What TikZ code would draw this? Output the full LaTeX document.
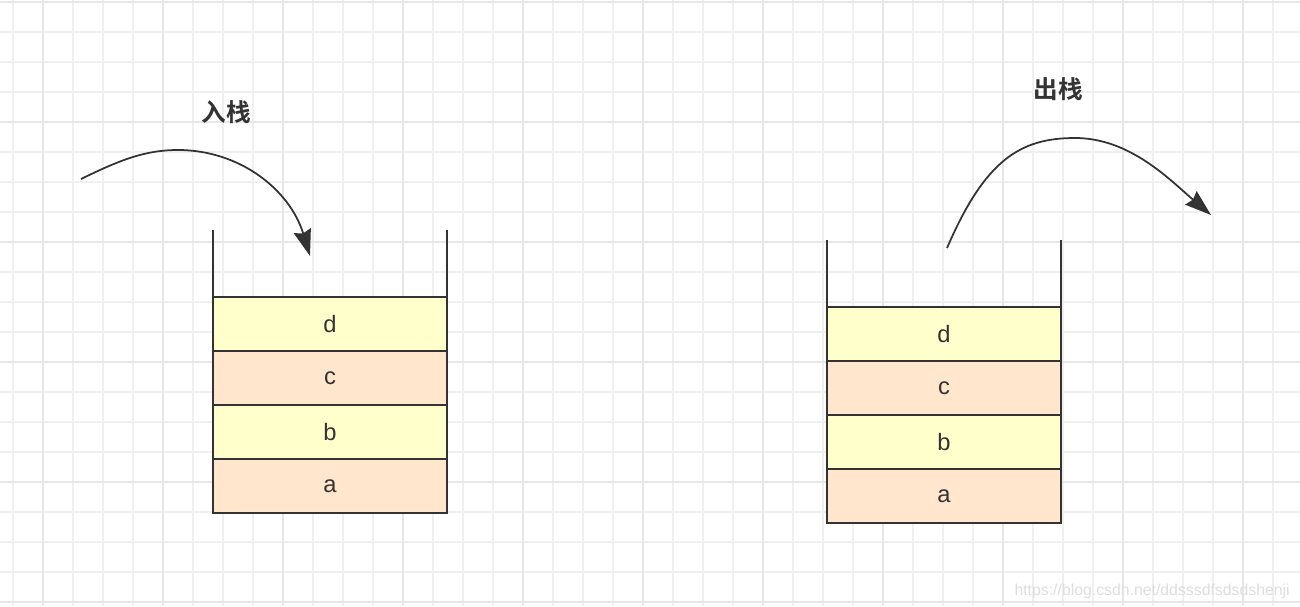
\documentclass[tikz,border=0pt]{standalone}
\usepackage{fontspec}
\setmainfont{Liberation Sans}
\newfontfamily\cjk{Noto Sans CJK SC}[BoldFont={Noto Sans CJK SC Bold}]
\usetikzlibrary{positioning,arrows.meta}
\definecolor{ink}{HTML}{333333}
\definecolor{lemon}{HTML}{FFFFCC}
\definecolor{peach}{HTML}{FFE6CC}
\definecolor{minorgrid}{HTML}{F0F0F0}
\definecolor{majorgrid}{HTML}{E6E6E6}

\begin{document}
\begin{tikzpicture}[x=0.02cm,y=-0.02cm,
    cell/.style={draw=ink,line width=1.1pt,minimum width=4.68cm,minimum height=1.08cm,
      outer sep=0pt,inner sep=0pt,text=ink,font=\fontsize{13.5}{16}\selectfont},
    wall/.style={draw=ink,line width=1.1pt},
    move/.style={draw=ink,line width=1pt,-{Stealth[length=15pt,width=10pt,inset=1.5pt]}},
    title/.style={text=ink,font=\cjk\bfseries\fontsize{14}{16}\selectfont}]
  \useasboundingbox (0,0) rectangle (1300,606);
  \fill[white] (0,0) rectangle (1300,606);
  \foreach \x in {13,43,...,1273} \draw[minorgrid,line width=0.6pt] (\x,0) -- (\x,606);
  \foreach \y in {2,32,...,602} \draw[minorgrid,line width=0.6pt] (0,\y) -- (1300,\y);
  \foreach \x in {43,163,...,1243} \draw[majorgrid,line width=1pt] (\x,0) -- (\x,606);
  \foreach \y in {2,122,...,602} \draw[majorgrid,line width=1pt] (0,\y) -- (1300,\y);

  % push stack
  \node[cell,fill=peach] (la) at (330,486) {a};
  \node[cell,fill=lemon,above=0pt of la] (lb) {b};
  \node[cell,fill=peach,above=0pt of lb] (lc) {c};
  \node[cell,fill=lemon,above=0pt of lc] (ld) {d};
  \draw[wall] (ld.north west) -- +(0,-67);
  \draw[wall] (ld.north east) -- +(0,-67);

  % pop stack
  \node[cell,fill=peach] (ra) at (944,496) {a};
  \node[cell,fill=lemon,above=0pt of ra] (rb) {b};
  \node[cell,fill=peach,above=0pt of rb] (rc) {c};
  \node[cell,fill=lemon,above=0pt of rc] (rd) {d};
  \draw[wall] (rd.north west) -- +(0,-67);
  \draw[wall] (rd.north east) -- +(0,-67);

  \node[title] (pushlabel) at (226,112) {入栈};
  \node[title] (poplabel) at (1058,89) {出栈};

  \coordinate (pushfrom) at (81,179);
  \coordinate (pushtop) at (178,150);
  \coordinate (pushto) at (310,256);
  \draw[move] (pushfrom) .. controls (120,160) and (145,150) .. (pushtop)
    .. controls (240,150) and (290,190) .. (pushto);

  \coordinate (popfrom) at (947,248);
  \coordinate (poptop) at (1075,138);
  \coordinate (popto) at (1211,215);
  \draw[move] (popfrom) .. controls (985,160) and (1020,138) .. (poptop)
    .. controls (1130,138) and (1170,180) .. (popto);

  \node[anchor=east,inner sep=0pt,text=black!13,font=\fontsize{9}{11}\selectfont]
    (mark) at (1290,591) {https://blog.csdn.net/ddsssdfsdsdshenji};
\end{tikzpicture}
\end{document}
